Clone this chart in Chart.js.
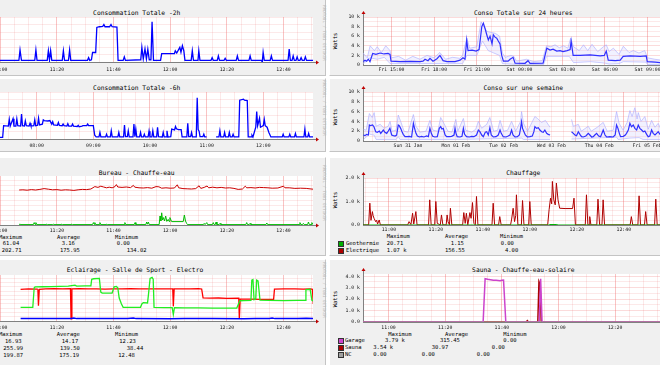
<!DOCTYPE html>
<html>
<head>
<meta charset="utf-8">
<script src="https://cdn.jsdelivr.net/npm/chart.js@4.4.1/dist/chart.umd.min.js"></script>
<style>
  body { margin: 0; width: 660px; height: 365px; overflow: hidden; position: relative; background: #fff;
         font-family: "DejaVu Sans Mono", monospace; color: #000; }
  .panel { position: absolute; background: #f0f0f0; box-sizing: border-box;
           border-top: 1px solid #fff; border-left: 1px solid #fff;
           border-right: 1px solid #c4c4c4; border-bottom: 1px solid #c4c4c4; }
  canvas { position: absolute; }
  .t { position: absolute; white-space: pre; line-height: 1; transform: translateY(-50%); }
  .title { font-size: 6.3px; transform: translate(-50%, -50%); }
  .leg { font-size: 5.5px; }
  .unit { font-size: 5.5px; transform: translate(-50%, -50%) rotate(-90deg); }
  .rrd { font-size: 4.2px; color: #b8b8b8; transform: translate(-50%, -50%) rotate(90deg); }
  .sq { position: absolute; width: 4px; height: 4px; border: 1px solid #333; }
</style>
</head>
<body>
<script>
// ---------- data (times: minutes after 11:00 unless noted) ----------

// Consommation Totale -2h  [minute, W]
const conso2h = [
  [-9.6,220],[6.6,220],[7.0,1600],[7.5,220],[12.2,220],[12.6,1600],[13.0,220],
  [16.6,220],[17.0,1500],[17.4,260],[17.8,1500],[18.2,220],[21.9,220],[22.3,1500],[22.7,220],
  [24.1,220],[24.5,1600],[24.9,220],[30.8,220],[31.2,580],[31.6,220],
  [32.2,300],[32.6,1270],[33.7,1270],[34.1,4600],[35.0,4700],[36.2,4750],[36.6,5000],[37.0,4700],
  [38.6,4700],[39.1,5000],[39.5,4700],[41.2,4650],[41.6,220],
  [43.4,220],[43.8,680],[44.2,220],[49.6,300],[50.0,1950],[50.5,400],[51.1,1770],[51.6,400],[52.1,1700],[52.6,300],
  [53.2,300],[53.6,5360],[54.1,220],[56.6,220],[57.0,1130],[61.5,1130],[61.8,1500],[62.3,1200],
  [63.4,1950],[63.8,1300],[64.3,2180],[64.8,1500],[65.2,220],
  [67.4,220],[67.8,1500],[68.2,220],[69.8,220],[70.1,1500],[70.5,220],[74.4,220],[74.8,580],[75.2,220],
  [76.6,220],[77.0,820],[77.4,220],[79.0,220],[79.4,500],[79.8,220],[83.3,220],[83.7,820],[84.1,220],
  [87.8,220],[88.2,820],[88.6,220],[92.2,220],[92.5,0],[92.8,1270],[93.2,220],[95.3,220],[95.7,820],[96.1,220],
  [101.6,220],[102.0,1730],[102.4,220],[103.0,220],[103.4,820],[103.8,220],[104.4,220],[104.8,680],[105.2,220],
  [105.8,220],[106.2,580],[106.6,220],[107.3,220],[107.7,680],[108.1,220],[110.4,220]
];

// Consommation Totale -6h  [minute since midnight, W]
const conso6h = [
  [412.6,200],[444,200],[445,1700],[450,1650],[451,2500],[452,1650],[455,2600],[456,1650],[458,1650],[459,2550],[460,1700],
  [463,1650],[464,3200],[465,1700],[467,1650],[468,2300],[469,1700],[472,1650],[473,2000],[474,1650],
  [477,1700],[478,2450],[479,1700],[481,1750],[482,2650],[483,1800],[486,1900],[487,2450],[488,2350],
  [492,2300],[494,2350],[496,1900],[497,2200],[498,1800],[502,1750],[503,2100],[504,1750],
  [507,1700],[508,1900],[509,1700],[512,1650],[513,1950],[514,1650],[517,1650],[518,1900],[519,1650],
  [523,1600],[524,1750],[525,1550],[528,1650],[529,1700],[533,1700],[534,1900],[535,1700],[540,1700],
  [541.5,480],[543,260],[546,260],[547,830],[548,260],[553,260],[554,610],[555,260],[558,260],[559,1040],[560,260],
  [566,260],[567,830],[568,260],[572,260],[573,1780],[574,300],[576,300],[577,1040],[578,260],
  [582,260],[583,1910],[584,300],[585,1260],[586,260],[589,260],[590,830],[591,260],[593,260],[594,610],[595,260],
  [598,260],[599,1000],[600,260],[602,260],[603,1040],[604,260],[607,260],[608,1480],[609,300],
  [613,260],[614,830],[615,260],[617,260],[618,1040],[619,260],[622,300],[623,1260],[626,1150],[627,1600],
  [628,1300],[630,1200],[633,1200],[634,260],[639,260],[640,2000],[641,300],[643,300],[644,830],[645,260],
  [649,260],[650,5260],[651,1200],[652,1000],[653,300],[656,300],[657,610],[658,260],[660,260],[661,null],
  [670,260],[673,260],[674,1040],[675,260],[678,260],[679,830],[680,260],[683,260],[684,830],[685,260],
  [687,260],[688,610],[689,260],[694,260],[695,4960],[699,5090],[700,4960],[703,4900],[704,260],
  [707,260],[708,480],[709,260],[712,1500],[713,3500],[714,1700],[716,2650],[717,1500],[720,1700],
  [721,2500],[722,1700],[724,1500],[726,800],[728,260],[740,260],[741,610],[742,260],[747,260],[748,610],[749,260],
  [753,260],[754,700],[755,260],[763,260],[764,1260],[765,260],[767,260],[768,700],[769,260],[772.6,260]
];

// Bureau - Chauffe-eau  [minute, W]
const bureau = [
  [6.7,2],[6.9,5],[7.3,2],[11.7,2],[12.0,12],[12.3,3],[12.6,12],[12.9,2],[16.2,2],[16.4,5],[16.7,2],
  [18.5,2],[18.7,5],[19.0,2],[21.5,2],[21.7,5],[22.0,2],[25.0,2],[25.2,5],[25.5,2],
  [32.6,2],[32.9,12],[33.2,3],[33.4,12],[33.7,2],[35.0,2],[35.2,12],[35.5,2],[37.4,2],[37.6,5],[37.9,2],
  [43.7,2],[44.0,12],[44.3,2],[47.3,2],[47.6,12],[47.9,2],[51.4,2],[51.7,15],[52.0,4],[52.3,15],[52.6,2],
  [56.1,2],[56.4,45],[56.7,20],[57.0,61],[57.3,25],[57.6,37],[58.0,20],[58.4,45],[58.8,18],[59.3,28],
  [59.6,18],[59.9,37],[60.5,17],[64.6,17],[65.0,50],[65.4,20],[65.8,8],[66.1,2],
  [71.7,2],[72.0,8],[72.3,2],[72.6,2],[72.9,12],[73.2,2],[74.9,2],[75.2,12],[75.5,2],[75.9,2],[76.2,15],[76.5,2],
  [77.3,2],[77.6,8],[77.9,2],[86.7,2],[87.0,12],[87.3,2],[87.9,2],[88.2,8],[88.5,2],[93.8,2],[94.1,10],[94.4,2],
  [105.5,2],[105.8,12],[106.1,2],[106.7,2],[107.0,8],[107.3,2],[108.5,2],[108.8,15],[109.1,2],[109.7,2],[110.0,12],[110.4,2]
];
const chauffeEau = [
  [6.7,175],[8,176],[9.5,174],[11,177],[12.5,175],[14,178],[15.5,182],[17,179],[18.5,176],[20,177],[21.5,174],
  [23,176],[24.5,175],[26,173],[27.5,176],[29,178],[30.5,177],[32,180],[33.4,192],[34.5,188],[35.5,194],
  [36.5,190],[37.5,186],[38.5,189],[39.5,186],[40.5,192],[41,202],[41.5,190],[43,188],[44.5,190],[46,187],
  [47,198],[47.5,189],[49,186],[50.5,185],[52,187],[53.5,184],[55,192],[56,191],[57,184],[58.5,186],[60,184],
  [61.5,185],[62.5,201],[63,186],[64.5,182],[66,181],[67.5,180],[69,182],[70.2,196],[70.8,183],[72,188],
  [73,195],[73.6,186],[75,189],[76.5,186],[78,188],[79.5,185],[81,186],[82.5,183],[84,178],[85.5,180],
  [86.5,194],[87,186],[88.5,187],[90,185],[91.5,188],[93,187],[94.5,186],[96,184],[98,185],[100,194],
  [100.5,186],[102,186],[104,183],[106,184],[108,183],[110.4,179]
];

// Eclairage - Salle de Sport - Electro  [minute, W]
const eclairage = [
  [7.2,14],[20,14],[25,15],[26,17],[27,14],[40,14],[45,15],[47,17],[48,14],[60,13],[65,14],[72,15],[75,14],
  [86,13],[90,14],[95,15],[96,17],[97,14],[105,14],[108,16],[110.5,14]
];
const salleSport = [
  [7.2,80],[11.5,80],[12.0,195],[12.3,200],[15,201],[18,202],[21,203],[24,205],[26.4,210],[27,205],[30,206],
  [32.0,206],[32.3,245],[33,248],[35.0,250],[35.5,170],[36,164],[39.5,164],[40.2,200],[41.0,203],[41.5,195],
  [42.0,135],[42.8,100],[43.4,80],[49.5,80],[50.0,100],[50.5,108],[52,106],[52.3,150],[52.9,250],[53.6,256],
  [54.0,245],[54.3,80],[58,78],[60.7,78],[61.1,38],[61.5,78],[65,77],[70,77],[75,76],[80,76],[83.5,76],
  [84.6,119],[86,120],[88.5,121],[88.8,240],[89.2,243],[89.6,125],[90.2,130],[90.5,240],[91.0,235],[91.7,122],
  [95,121],[100,120],[105,121],[107.6,121],[107.9,184],[109.4,186],[110,122],[110.5,118]
];
const electro = [
  [7.2,186],[10,188],[13,187],[13.3,186],[13.5,90],[13.8,186],[16,188],[19,190],[22,189],[24.8,190],[25.0,12.5],
  [25.3,189],[28,190],[31,188],[34,189],[37,187],[40,189],[43,188],[46,190],[49,189],[52,188],[55,189],[58,188],
  [60.9,188],[61.1,86],[61.4,188],[64,189],[67,188],[70,190],[71.1,188],[71.6,136],[74,134],[77,135],[80,133],
  [84.2,134],[84.4,12.5],[84.7,128],[88,128],[92,127],[96.5,127],[96.8,187],[100,188],[104,189],[107,187],
  [109.5,188],[110.2,186],[110.5,100]
];

// Conso Totale sur 24 heures  [hour since Fri 00:00, W]
const conso24h = [
  [13.02,700],[13.14,1000],[13.26,800],[13.37,1200],[13.49,700],[13.68,2400],[13.91,2200],[14.2,2500],[14.48,2300],
  [14.76,2400],[14.9,2200],[14.97,800],[15.6,700],[16.31,750],[17.01,700],[17.22,800],[17.36,1200],[17.57,900],
  [17.71,1400],[17.92,800],[18.2,1300],[18.41,2000],[18.63,900],[18.91,700],[19.47,700],[19.82,1000],[20.03,1500],
  [20.17,1200],[20.29,5200],[20.38,3000],[20.67,3100],[20.95,2900],[21.16,3200],[21.35,8000],[21.46,8700],
  [21.58,7600],[21.7,6300],[21.81,5200],[21.93,6000],[22.07,4400],[22.16,6300],[22.28,5800],[22.4,5600],
  [22.51,5000],[22.63,4400],[22.75,2000],[22.87,800],[23.2,800],[23.34,1200],[23.55,1600],[23.69,400],
  [24.39,350],[24.6,900],[24.74,350],[25.66,400],[25.73,1200],[25.92,3500],[26.15,3100],[26.36,3300],
  [26.62,2900],[26.85,3000],[27.06,2800],[27.35,3000],[27.56,3200],[27.63,5000],[27.77,2000],[28.27,2000],
  [28.97,2100],[29.67,1900],[29.96,2000],[30.1,2900],[30.24,1000],[30.73,900],[31.08,1000],[31.29,1800],
  [31.78,1900],[32.49,1800],[32.91,1900],[32.98,700],[33.55,600],[33.89,500],[35,500],[36.9,500]
];
const conso24hMax = [
  [13.0,2500],[13.3,1500],[13.5,4000],[13.8,3000],[14.0,3800],[14.3,2600],[14.6,4000],[14.9,3000],[15.0,1500],
  [15.5,1800],[16,1000],[16.5,1800],[17,1200],[17.5,2000],[18,1500],[18.4,2600],[18.8,1200],[19.3,1600],
  [19.8,1400],[20.0,2000],[20.3,5600],[20.5,3500],[21.0,3800],[21.3,9000],[21.5,8000],[21.7,7000],[22.0,6800],
  [22.3,6600],[22.6,6000],[22.8,2500],[23.0,1600],[23.4,2000],[23.6,1800],[23.8,800],[24.5,1200],[25,700],
  [25.6,900],[25.9,4000],[26.2,3800],[26.5,4200],[26.8,3600],[27.1,4000],[27.4,3500],[27.6,5600],[27.8,3800],
  [28.2,3000],[28.5,4200],[28.8,3000],[29.1,4300],[29.5,2800],[29.9,3800],[30.1,4200],[30.3,2800],[30.6,3500],
  [31.0,2200],[31.3,3900],[31.7,2600],[32.0,3000],[32.4,2500],[32.8,3000],[33.0,1500],[33.5,1200],[34,1000],[36.9,1000]
];
const conso24hMin = [
  [13.0,200],[13.5,1500],[14,1200],[14.5,1600],[14.9,300],[16,300],[18,300],[20,300],[20.3,2000],[21,2000],
  [21.4,5000],[21.8,3000],[22.2,2500],[22.6,2000],[22.8,300],[24,100],[25.7,100],[25.9,1800],[27.5,1800],
  [27.8,500],[29,700],[30,400],[30.3,200],[31,300],[31.3,700],[32.9,600],[33,100],[36.9,100]
];

// Conso sur une semaine  [hour since Sat 30 Jan 00:00, W]
const consoWeek = [
  [13.6,1220],[14.4,1090],[15.2,1360],[16.1,1220],[16.6,3260],[17.2,3130],[18.2,3260],[18.9,2920],[19.8,1900],
  [20.6,1770],[21.6,2040],[22.3,1560],[23.6,2240],[24.4,1770],[25.3,1560],[26.1,2040],[26.9,2580],[27.8,1220],
  [28.6,1090],[29.5,1020],[30.3,1220],[31.1,3260],[31.6,3130],[32.3,2580],[33.0,1900],[33.6,1360],[34.5,880],
  [35.6,880],[36.7,950],[37.8,820],[38.7,3600],[39.3,2580],[40.0,1560],[40.7,1020],[41.7,820],[42.8,950],
  [44.0,820],[45.4,1020],[46.2,880],[47.0,2580],[47.7,1560],[48.4,950],[49.5,820],[50.7,880],[51.7,2580],
  [52.4,2920],[53.0,2450],[53.7,2580],[54.6,1220],[55.4,880],[56.7,880],[57.9,950],[59.1,1220],[59.6,2580],
  [60.1,1560],[60.7,880],[62.1,820],[63.1,950],[63.8,2580],[64.4,1360],[65.4,880],[66.8,820],[67.9,950],
  [69.1,880],[70.4,1220],[71.3,2240],[72.1,1900],[73.0,1220],[73.8,880],[74.8,1770],[75.5,1900],[76.3,1220],
  [77.1,2720],[77.8,1220],[78.8,820],[80.2,880],[81.3,1220],[82.2,2240],[82.8,1560],[83.8,880],[85.2,820],
  [86.3,1020],[87.2,1220],[88.0,2240],[88.7,1220],[89.7,820],[90.9,880],[91.9,1220],[92.5,2580],[93.0,3940],
  [93.5,2580],[94.2,1900],[94.9,1220],[95.9,820],[97.2,880],[98.4,1020],[99.2,1900],[99.7,2920],[100.6,2580],
  [101.4,2720],[102.2,2240],[103.1,1900],[103.9,1770],[104.7,2240],[105.6,1560],[106.4,1360],[107.3,1220],
  [107.5,null],[118.1,1900],[119.0,1560],[119.8,1220],[120.6,1090],[121.5,1900],[122.3,1360],[123.1,880],
  [124.0,820],[125.3,1020],[126.5,1560],[127.3,1220],[128.2,820],[129.0,880],[129.8,1220],[130.7,1560],
  [131.7,1020],[132.7,880],[134.0,2240],[134.9,1220],[135.7,820],[137.4,880],[139.0,820],[140.0,1220],
  [140.7,3260],[141.4,2580],[142.1,1560],[142.7,880],[144.1,950],[145.1,1220],[145.7,1560],[146.6,2240],
  [147.4,3600],[148.2,2920],[149.1,3260],[149.9,2580],[150.8,2240],[151.6,3260],[152.4,2580],[153.3,2240],
  [154.1,1900],[154.9,2040],[155.8,1360],[156.6,880],[157.4,1020],[158.3,2240],[159.1,1560],[160.0,1220],
  [160.8,1560],[161.6,1900],[162.5,1360],[165,1000],[170,1500],[175,900],[180,1200],[184,1000]
];
const consoWeekMax = [
  [13.6,2400],[15,2200],[16.6,5600],[18,4800],[19,5800],[20,3000],[22,3400],[24,2600],[26,3000],[27,4000],
  [28,2000],[30,2200],[31.1,5300],[32.5,3800],[34,2000],[36,1800],[38.7,5400],[40,3000],[42,1800],[45,2000],
  [47,4200],[48.5,2200],[51,2000],[52.4,4800],[54,3600],[56,2000],[58,1800],[60,4400],[61,2000],[63.8,4600],
  [65,2200],[68,1800],[70,2400],[71.3,4000],[73,2600],[75.5,3400],[77.1,4800],[79,2000],[81,2200],[82.2,4200],
  [84,2000],[86,2200],[88,4000],[90,2000],[92.5,4000],[93,6000],[94,3600],[96,2000],[99.7,5000],[101,4600],
  [103,3800],[105,4200],[107.3,2800],[107.5,null],[118.1,4400],[119,3000],[121.5,3400],[123,2000],[126.5,3000],
  [128,2000],[131,2800],[134,3800],[136,2000],[139,2200],[140.7,6000],[142,3600],[144,2200],[146,3800],
  [147.4,6200],[148.5,5000],[149.9,6800],[151,4500],[151.6,5800],[153,4000],[154.9,5000],[156.6,2400],
  [158.3,4200],[160,2800],[161.6,3600],[163,2400],[168,3000],[175,2000],[184,2200]
];
const consoWeekMin = [
  [13.6,300],[16.6,1400],[19,1200],[20,300],[30,300],[31.1,900],[32,300],[60,300],[93,600],[94,300],
  [107.3,300],[107.5,null],[118.1,400],[140.7,800],[141.5,300],[147.4,600],[152,700],[154,300],[184,300]
];

// Chauffage  [minute, W]
const geothermie = [[-11,0],[68,0],[68.5,20],[71.5,20],[72,0],[134,0]];
const electrique = [
  [-11,4],[-8.6,4],[-8.1,930],[-7.6,200],[-7.0,570],[-6.7,400],[-6.3,285],[-5.6,140],[-5.2,200],[-4.8,40],
  [-4.1,214],[-3.6,4],[8.0,4],[8.6,143],[9.4,20],[10.1,500],[10.6,40],[11.5,571],[12.0,4],
  [16.9,4],[17.4,1070],[18.0,4],[19.5,4],[20.0,1000],[20.6,70],[21.9,4],[22.4,428],[23.0,4],[24.4,4],
  [24.8,428],[25.2,140],[25.8,4],[26.2,713],[26.8,4],[31.4,4],[31.9,528],[32.5,70],[33.0,500],[33.6,4],
  [34.5,528],[35.0,285],[35.6,956],[36.2,70],[36.8,4],[37.3,1213],[37.9,4],[43.9,4],[44.4,927],[45.0,4],
  [46.7,4],[47.2,357],[47.8,4],[51.8,4],[52.2,214],[52.9,713],[53.5,143],[54.0,400],[54.3,1284],[54.9,4],
  [56.4,4],[56.9,1041],[57.5,4],[59.5,4],[60.0,999],[60.6,4],[67.6,4],[68.2,650],[68.8,1141],[69.3,900],
  [69.6,1854],[70.2,1070],[70.8,856],[71.3,1783],[72.0,1070],[72.7,713],[75,700],[78.2,700],[78.8,1141],
  [79.4,4],[83.6,4],[84.1,1284],[84.7,4],[85.2,4],[85.5,357],[86.0,4],[88.5,4],[89.0,1098],[89.7,4],
  [90.7,4],[91.2,1070],[91.8,4],[102.7,4],[103.2,357],[103.8,4],[106.0,4],[106.5,1241],[107.1,4],
  [108.8,4],[109.3,571],[109.9,4],[113.1,4],[113.6,1098],[114.2,4],[134,4]
];

// Sauna - Chauffe-eau-solaire  [minute, W]
const garage = [[-9,0],[33.4,0],[34.1,3790],[35,3740],[36,3700],[37,3650],[38,3660],[39.4,3620],[40,3650],
  [40.6,3670],[41.4,0],[53.2,0],[53.7,3790],[54.2,0],[111,0]];
const sauna = [[-9,0],[48.6,0],[49.0,120],[49.4,0],[52.7,0],[53.1,3540],[53.5,3300],[53.9,0],[111,0]];
const nc = [[-9,0],[111,0]];

// ---------- tick labels ----------
const ticks2hAt = [0, 20, 40, 60, 80, 100];
const ticks2hText = ['11:00', '11:20', '11:40', '12:00', '12:20', '12:40'];
const ticks6hAt = [420, 480, 540, 600, 660, 720];
const ticks6hText = ['07:00', '08:00', '09:00', '10:00', '11:00', '12:00'];
const ticks24hAt = [15, 18, 21, 24, 27, 30, 33, 36];
const ticks24hText = ['Fri 15:00', 'Fri 18:00', 'Fri 21:00', 'Sat 00:00', 'Sat 03:00', 'Sat 06:00', 'Sat 09:00', 'Sat 12:00'];
const ticksWeekAt = [36, 60, 84, 108, 132, 156, 180];
const ticksWeekText = ['Sun 31 Jan', 'Mon 01 Feb', 'Tue 02 Feb', 'Wed 03 Feb', 'Thu 04 Feb', 'Fri 05 Feb', 'Sat 06 Feb'];
const wattsKAt = [0, 2000, 4000, 6000, 8000, 10000];
const wattsKText = ['0', '2 k', '4 k', '6 k', '8 k', '10 k'];
const chauffAt = [0, 1000, 2000];
const chauffText = ['0.0', '1.0 k', '2.0 k'];
const saunaAt = [0, 1000, 2000, 3000, 4000];
const saunaText = ['0.0', '1.0 k', '2.0 k', '3.0 k', '4.0 k'];

// legend statistics
const bureauStats = [['61.04', '3.16', '0.00'], ['202.71', '175.95', '134.02']];
const eclStats = [['16.93', '14.17', '12.23'], ['255.99', '139.50', '38.44'], ['199.87', '175.19', '12.48']];
const chauffStats = [['Geothermie', '20.71', '1.15', '0.00'], ['Electrique', '1.07 k', '156.55', '4.00']];
const saunaStats = [['Garage', '3.79 k', '315.45', '0.00'], ['Sauna', '3.54 k', '30.97', '0.00'], ['NC', '0.00', '0.00', '0.00']];

// ---------- page furniture ----------
const FONT = "'DejaVu Sans Mono', monospace";
const MINOR = 'rgba(235,120,120,0.16)';
const MAJOR_X = 'rgba(235,70,70,0.32)';
const MAJOR_Y = 'rgba(235,90,90,0.22)';
const AXIS = '#808080';

function box(x, y, w, h) {
  const d = document.createElement('div');
  d.className = 'panel';
  Object.assign(d.style, { left: x + 'px', top: y + 'px', width: w + 'px', height: h + 'px' });
  document.body.appendChild(d);
}
function txt(s, x, y, cls) {
  const d = document.createElement('div');
  d.className = 't ' + (cls || 'leg');
  d.textContent = s;
  Object.assign(d.style, { left: x + 'px', top: y + 'px' });
  document.body.appendChild(d);
}
function sq(x, y, color) {
  const d = document.createElement('div');
  d.className = 'sq';
  Object.assign(d.style, { left: x + 'px', top: (y - 3) + 'px', background: color });
  document.body.appendChild(d);
}

[[-1, 77], [78, 74], [157, 99], [259, 110]].forEach(([y, h]) => { box(-60, y, 386, h); box(329, y, 400, h); });

const titles = [['Consommation Totale -2h', 136.7, 12.7], ['Consommation Totale -6h', 136.7, 88.3],
  ['Bureau - Chauffe-eau', 136.7, 172.7], ['Eclairage - Salle de Sport - Electro', 135, 269.7],
  ['Conso Totale sur 24 heures', 523.3, 12.7], ['Conso sur une semaine', 523.3, 88.3],
  ['Chauffage', 523.3, 172.7], ['Sauna - Chauffe-eau-solaire', 523.3, 269.7]];
titles.forEach(([s, x, y]) => txt(s, x, y, 'title'));
[41, 116.5, 200, 299].forEach(y => txt('Watts', 335.5, y, 'unit'));
[32.5, 108, 192.5, 289.5].forEach(y => txt('RRDTOOL / TOBI OETIKER', 323.5, y, 'rrd'));

// legends
txt('Maximum', -1, 238); txt('Average', 57, 238); txt('Minimum', 115, 238);
[[244.3, [2.7, 61.7, 116.7]], [250.7, [1.7, 60, 126.7]]].forEach(([y, xs], r) =>
  bureauStats[r].forEach((s, i) => txt(s, xs[i], y)));

txt('Maximum', -1, 334.7); txt('Average', 56.7, 334.7); txt('Minimum', 115, 334.7);
[[342, [5, 61.7, 119.3]], [349, [3.3, 60, 126.7]], [355.5, [3.3, 59.3, 118.3]]].forEach(([y, xs], r) =>
  eclStats[r].forEach((s, i) => txt(s, xs[i], y)));

txt('Maximum', 386.7, 237.3); txt('Average', 445, 237.3); txt('Minimum', 500, 237.3);
[[244, '#00b000', [346, 386.7, 450.7, 500.7]], [250.7, '#b00000', [346, 386.7, 445, 505]]].forEach(([y, c, xs], r) => {
  sq(338, y, c); chauffStats[r].forEach((s, i) => txt(s, xs[i], y));
});

txt('Maximum', 388.3, 334.7); txt('Average', 445, 334.7); txt('Minimum', 503.3, 334.7);
[[341.3, '#cc44cc', [345, 385, 440, 503.3]], [348, '#aa0000', [345, 373.3, 431.7, 491.7]],
 [355, '#a0a0a0', [345, 373.3, 421.7, 476.7]]].forEach(([y, c, xs], r) => {
  sq(338, y, c); saunaStats[r].forEach((s, i) => txt(s, xs[i], y));
});

// ---------- charts ----------
const plotBg = { id: 'plotBg', beforeDraw(chart) {
  const { ctx, chartArea: a } = chart;
  ctx.save(); ctx.fillStyle = '#fff'; ctx.fillRect(a.left, a.top, a.right - a.left, a.bottom - a.top); ctx.restore();
} };
const rrdArrows = { id: 'rrdArrows', afterDraw(chart) {
  const { ctx, chartArea: a } = chart;
  ctx.save();
  ctx.strokeStyle = AXIS; ctx.lineWidth = 1;
  ctx.beginPath(); ctx.moveTo(a.right, a.bottom + 0.5); ctx.lineTo(a.right + 3, a.bottom + 0.5);
  ctx.moveTo(a.left + 0.5, a.top); ctx.lineTo(a.left + 0.5, a.top - 3); ctx.stroke();
  ctx.fillStyle = '#c00000';
  ctx.beginPath(); ctx.moveTo(a.right + 6, a.bottom + 0.5); ctx.lineTo(a.right + 3, a.bottom - 1.5); ctx.lineTo(a.right + 3, a.bottom + 2.5); ctx.fill();
  ctx.beginPath(); ctx.moveTo(a.left + 0.5, a.top - 6); ctx.lineTo(a.left - 1.5, a.top - 3); ctx.lineTo(a.left + 2.5, a.top - 3); ctx.fill();
  ctx.restore();
} };

function steps(from, to, step) { const out = []; for (let v = from; v <= to + 1e-9; v += step) out.push(v); return out; }

function makeChart(c) {
  const yW = 30, pt = 8, pr = 8, xH = 14;
  const [L, T, W, H] = c.plot;
  const cv = document.createElement('canvas');
  cv.width = yW + W + pr; cv.height = pt + H + xH;
  cv.style.left = (L - yW) + 'px'; cv.style.top = (T - pt) + 'px';
  document.body.appendChild(cv);
  const xGrid = steps(c.x.gridFrom, c.x.max, c.x.gridStep);
  const yGrid = steps(0, c.y.max, c.y.gridStep);
  new Chart(cv, {
    type: 'line',
    data: { datasets: c.series.map(s => ({
      data: s.data.map(([x, y]) => ({ x, y })), borderColor: s.color, borderWidth: s.width || 1,
      backgroundColor: s.bg || 'transparent', fill: s.fill || false, order: s.order || 0,
      pointRadius: 0, tension: 0, spanGaps: false
    })) },
    options: {
      responsive: false, animation: false, events: [],
      layout: { padding: { top: pt, right: pr, left: 0, bottom: 0 }, autoPadding: false },
      plugins: { legend: { display: false }, tooltip: { enabled: false } },
      scales: {
        x: {
          type: 'linear', min: c.x.min, max: c.x.max,
          afterBuildTicks: s => { s.ticks = xGrid.map(v => ({ value: v })); },
          afterFit: s => { s.height = xH; },
          grid: { drawTicks: false, color: ctx => c.x.major(ctx.tick.value) ? MAJOR_X : MINOR },
          border: { color: AXIS },
          ticks: { autoSkip: false, maxRotation: 0, minRotation: 0, padding: c.x.pad, color: '#111',
                   font: { family: FONT, size: 4.8 },
                   callback: v => { const i = c.x.at.indexOf(v); return i < 0 ? '' : c.x.text[i]; } }
        },
        y: {
          type: 'linear', min: 0, max: c.y.max,
          afterBuildTicks: s => { s.ticks = yGrid.map(v => ({ value: v })); },
          afterFit: s => { s.width = yW; },
          grid: { drawTicks: false, color: ctx => (c.y.at && c.y.at.includes(ctx.tick.value)) ? MAJOR_Y : MINOR },
          border: { color: AXIS },
          ticks: { display: !!c.y.at, autoSkip: false, padding: 3, color: '#111', font: { family: FONT, size: 4.8 },
                   callback: v => { const i = c.y.at ? c.y.at.indexOf(v) : -1; return i < 0 ? '' : c.y.text[i]; } }
        }
      }
    },
    plugins: [plotBg, rrdArrows]
  });
}

const every20 = v => v % 20 === 0;

makeChart({ plot: [-27, 17, 340, 45],
  x: { min: -9.6, max: 110.4, gridFrom: -5, gridStep: 5, major: every20, at: ticks2hAt, text: ticks2hText, pad: 5 },
  y: { max: 6000, gridStep: 1000 },
  series: [{ data: conso2h, color: '#0000ff', width: 1.3 }] });

makeChart({ plot: [-27, 92, 340, 47],
  x: { min: 412.6, max: 772.6, gridFrom: 420, gridStep: 15, major: v => v % 60 === 0, at: ticks6hAt, text: ticks6hText, pad: 3.8 },
  y: { max: 6000, gridStep: 1000 },
  series: [{ data: conso6h, color: '#0000ff', width: 1.3 }] });

makeChart({ plot: [-27, 176, 340, 49],
  x: { min: -9.6, max: 110.4, gridFrom: -5, gridStep: 5, major: every20, at: ticks2hAt, text: ticks2hText, pad: 2.8 },
  y: { max: 245, gridStep: 25 },
  series: [{ data: bureau, color: '#00bb00', width: 1 }, { data: chauffeEau, color: '#cc0000', width: 1 }] });

makeChart({ plot: [-27, 275, 340, 46],
  x: { min: -9.6, max: 110.4, gridFrom: -5, gridStep: 5, major: every20, at: ticks2hAt, text: ticks2hText, pad: 4 },
  y: { max: 270, gridStep: 25 },
  series: [{ data: eclairage, color: '#0000ff', width: 1.5 }, { data: salleSport, color: '#22ee22', width: 1.3 },
           { data: electro, color: '#ff0000', width: 1.3 }] });

makeChart({ plot: [363, 17, 340, 48],
  x: { min: 13.0, max: 36.9, gridFrom: 14, gridStep: 1, major: v => v % 3 === 0, at: ticks24hAt, text: ticks24hText, pad: 2 },
  y: { max: 10000, gridStep: 1000, at: wattsKAt, text: wattsKText },
  series: [{ data: conso24h, color: '#3030ff', width: 1.2, order: 0 },
           { data: conso24hMax, color: 'rgba(170,170,255,0.6)', width: 1, bg: 'rgba(205,205,255,0.28)', fill: '+1', order: 1 },
           { data: conso24hMin, color: 'rgba(170,170,255,0.6)', width: 1, order: 1 }] });

makeChart({ plot: [363, 92, 340, 49],
  x: { min: 13.4, max: 184.1, gridFrom: 18, gridStep: 6, major: v => v % 24 === 0, at: ticksWeekAt, text: ticksWeekText, pad: 1.5 },
  y: { max: 10000, gridStep: 1000, at: wattsKAt, text: wattsKText },
  series: [{ data: consoWeek, color: '#3030ff', width: 1.2, order: 0 },
           { data: consoWeekMax, color: 'rgba(170,170,255,0.6)', width: 1, bg: 'rgba(205,205,255,0.28)', fill: '+1', order: 1 },
           { data: consoWeekMin, color: 'rgba(170,170,255,0.6)', width: 1, order: 1 }] });

makeChart({ plot: [363, 178, 340, 47],
  x: { min: -11, max: 133.7, gridFrom: -10, gridStep: 5, major: every20, at: ticks2hAt, text: ticks2hText, pad: 2 },
  y: { max: 2000, gridStep: 200, at: chauffAt, text: chauffText },
  series: [{ data: geothermie, color: '#00b000', width: 1 }, { data: electrique, color: '#b00000', width: 1 }] });

makeChart({ plot: [363, 274, 340, 48],
  x: { min: -9, max: 111, gridFrom: -5, gridStep: 5, major: every20, at: ticks2hAt, text: ticks2hText, pad: 3 },
  y: { max: 4200, gridStep: 500, at: saunaAt, text: saunaText },
  series: [{ data: nc, color: '#a0a0a0', width: 1 }, { data: garage, color: '#cc44cc', width: 1.5 },
           { data: sauna, color: '#aa0000', width: 1.5 }] });
</script>
</body>
</html>
